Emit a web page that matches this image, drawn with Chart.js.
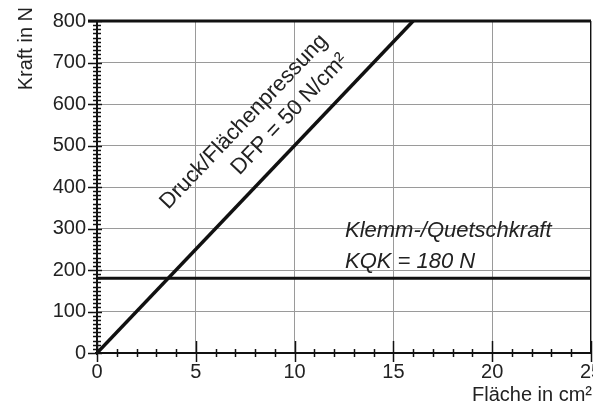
<!DOCTYPE html>
<html>
<head>
<meta charset="utf-8">
<script src="https://cdn.jsdelivr.net/npm/chart.js@4.4.1/dist/chart.umd.min.js"></script>
<style>
  html, body { margin: 0; padding: 0; background: #fff; }
  #wrap { width: 593px; height: 404px; position: relative; }
</style>
</head>
<body>
<div id="wrap"><canvas id="c" width="593" height="404"></canvas></div>
<script>
// ---- data ----
const xTickValues = [0, 5, 10, 15, 20, 25];
const yTickValues = [0, 100, 200, 300, 400, 500, 600, 700, 800];
const dfpArea  = [0, 16];        // Fläche in cm²
const dfpForce = [0, 800];       // Kraft in N (50 N/cm²)
const kqkArea  = [0, 25];
const kqkForce = [180, 180];     // 180 N
const xTitle = 'Fläche in cm²';
const yTitle = 'Kraft in N';
const dfpLabel1 = 'Druck/Flächenpressung';
const dfpLabel2 = 'DFP = 50 N/cm²';
const kqkLabel1 = 'Klemm-/Quetschkraft';
const kqkLabel2 = 'KQK = 180 N';

const FONT = '"Liberation Sans", Arial, Helvetica, sans-serif';
const TXT = '#222';

const decor = {
  id: 'decor',
  afterDraw(chart) {
    const ctx = chart.ctx;
    const xs = chart.scales.x, ys = chart.scales.y;
    const a = chart.chartArea;
    ctx.save();
    ctx.strokeStyle = '#111';
    ctx.lineCap = 'butt';
    // right border
    ctx.lineWidth = 1;
    ctx.beginPath(); ctx.moveTo(a.right - 0.5, a.top); ctx.lineTo(a.right - 0.5, a.bottom); ctx.stroke();
    // top border (thick)
    ctx.lineWidth = 3;
    ctx.beginPath(); ctx.moveTo(a.left - 9, a.top); ctx.lineTo(a.right, a.top); ctx.stroke();
    // left axis
    ctx.lineWidth = 2;
    ctx.beginPath(); ctx.moveTo(a.left, a.top); ctx.lineTo(a.left, a.bottom + 2); ctx.stroke();
    // bottom axis
    ctx.beginPath(); ctx.moveTo(a.left - 2, a.bottom); ctx.lineTo(a.right, a.bottom); ctx.stroke();
    // y minor ticks every 10, major at ticks
    ctx.lineWidth = 1.5;
    for (let v = ys.min; v <= ys.max; v += 10) {
      const py = Math.round(ys.getPixelForValue(v)) + 0.5;
      const major = yTickValues.includes(v);
      ctx.beginPath();
      ctx.moveTo(a.left - (major ? 9 : 4), py);
      ctx.lineTo(a.left + (major ? 5 : 4), py);
      ctx.stroke();
    }
    // x minor ticks every 1
    for (let v = xs.min; v <= xs.max; v += 1) {
      const px = Math.round(xs.getPixelForValue(v)) + 0.5;
      const major = xTickValues.includes(v);
      ctx.beginPath();
      ctx.moveTo(px, a.bottom - (major ? 12 : 4));
      ctx.lineTo(px, a.bottom + (major ? 9 : 4));
      ctx.stroke();
    }
    // axis titles
    ctx.fillStyle = TXT;
    ctx.font = '20px ' + FONT;
    ctx.textAlign = 'right';
    ctx.textBaseline = 'alphabetic';
    ctx.fillText(xTitle, 592, 401);
    ctx.save();
    ctx.translate(32, 7);
    ctx.rotate(-Math.PI / 2);
    ctx.fillText(yTitle, 0, 0);
    ctx.restore();

    // DFP labels, parallel to the line
    const p0x = xs.getPixelForValue(dfpArea[0]), p0y = ys.getPixelForValue(dfpForce[0]);
    const p1x = xs.getPixelForValue(dfpArea[1]), p1y = ys.getPixelForValue(dfpForce[1]);
    const ang = Math.atan2(p1y - p0y, p1x - p0x);
    const ux = Math.cos(ang), uy = Math.sin(ang);
    const nx = uy, ny = -ux; // normal pointing up-left
    const along = 385;
    ctx.font = '22px ' + FONT;
    ctx.textAlign = 'right';
    [[dfpLabel1, 47], [dfpLabel2, 19]].forEach(([t, off]) => {
      const ax = p0x + ux * along + nx * off;
      const ay = p0y + uy * along + ny * off;
      ctx.save();
      ctx.translate(ax, ay);
      ctx.rotate(ang);
      ctx.fillText(t, 0, 0);
      ctx.restore();
    });

    // KQK labels
    ctx.font = 'italic 22px ' + FONT;
    ctx.textAlign = 'left';
    const ky = ys.getPixelForValue(kqkForce[0]);
    const kx = xs.getPixelForValue(12.55);
    ctx.fillText(kqkLabel1, kx, ky - 41);
    ctx.fillText(kqkLabel2, kx, ky - 10);
    ctx.restore();
  }
};

new Chart(document.getElementById('c'), {
  type: 'scatter',
  data: {
    datasets: [
      {
        label: 'DFP',
        data: dfpArea.map((x, i) => ({ x, y: dfpForce[i] })),
        showLine: true, borderColor: '#111', borderWidth: 3.5,
        pointRadius: 0, fill: false
      },
      {
        label: 'KQK',
        data: kqkArea.map((x, i) => ({ x, y: kqkForce[i] })),
        showLine: true, borderColor: '#111', borderWidth: 3,
        pointRadius: 0, fill: false
      }
    ]
  },
  options: {
    responsive: false,
    animation: false,
    devicePixelRatio: 1,
    layout: { padding: { left: 0, top: 21, right: 2, bottom: 0 } },
    plugins: { legend: { display: false }, tooltip: { enabled: false } },
    scales: {
      x: {
        type: 'linear', min: 0, max: 25,
        afterBuildTicks: s => { s.ticks = xTickValues.map(v => ({ value: v })); },
        afterFit: s => { s.height = 51; s.paddingLeft = 0; s.paddingRight = 0; },
        ticks: { color: TXT, font: { family: FONT, size: 20 }, padding: 7, maxRotation: 0 },
        grid: { color: '#9a9a9a', lineWidth: 1, drawTicks: false },
        border: { display: false }
      },
      y: {
        type: 'linear', min: 0, max: 800,
        afterBuildTicks: s => { s.ticks = yTickValues.map(v => ({ value: v })); },
        afterFit: s => { s.width = 97; s.paddingTop = 0; s.paddingBottom = 0; },
        ticks: { color: TXT, font: { family: FONT, size: 20 }, padding: 11 },
        grid: { color: '#9a9a9a', lineWidth: 1, drawTicks: false },
        border: { display: false }
      }
    }
  },
  plugins: [decor]
});
</script>
</body>
</html>
